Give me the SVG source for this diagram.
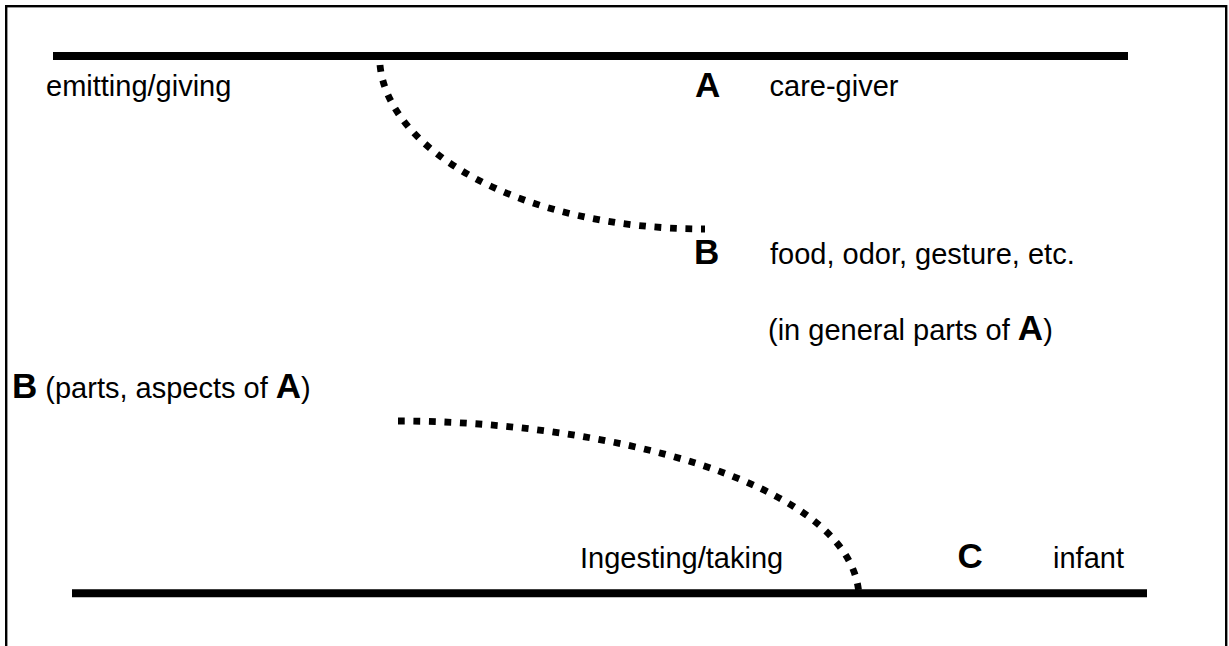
<svg xmlns="http://www.w3.org/2000/svg" width="1229" height="646" viewBox="0 0 1229 646">
  <style>
    text { font-family: "Liberation Sans", Arial, sans-serif; fill: #000; }
    .t { font-size: 29px; }
    .b { font-size: 35px; font-weight: bold; }
    .bar { stroke: #000; stroke-width: 8; fill: none; }
    .dots { stroke: #000; stroke-width: 6.8; stroke-dasharray: 6.8 8.7; fill: none; }
  </style>
  <rect x="0" y="0" width="1229" height="646" fill="#fff"/>
  <rect id="frame" x="6.2" y="6.2" width="1220" height="700" fill="none" stroke="#000" stroke-width="2.4"/>

  <g id="connectors">
    <line class="bar" x1="53" y1="56" x2="1128" y2="56"/>
    <line class="bar" x1="72" y1="593.3" x2="1147" y2="593.3"/>
    <path class="dots" d="M380,65 C388,150 520,229 705,229"/>
    <path class="dots" d="M398,421 C600,421 845,480 858.5,590"/>
  </g>

  <g id="emitting">
    <text class="t" x="46" y="96">emitting/giving</text>
  </g>
  <g id="nodeA">
    <text class="b" x="695" y="97">A</text>
    <text class="t" x="769.5" y="96">care-giver</text>
  </g>
  <g id="nodeB">
    <text class="b" x="694" y="264">B</text>
    <text class="t" x="770" y="264">food, odor, gesture, etc.</text>
    <text class="t" x="768" y="340">(in general parts of <tspan class="b">A</tspan>)</text>
  </g>
  <g id="nodeB2">
    <text x="12" y="398"><tspan class="b">B</tspan><tspan class="t"> (parts, aspects of </tspan><tspan class="b">A</tspan><tspan class="t">)</tspan></text>
  </g>
  <g id="ingesting">
    <text class="t" x="580" y="568">Ingesting/taking</text>
  </g>
  <g id="nodeC">
    <text class="b" x="957.5" y="568">C</text>
    <text class="t" x="1053" y="568">infant</text>
  </g>
</svg>
